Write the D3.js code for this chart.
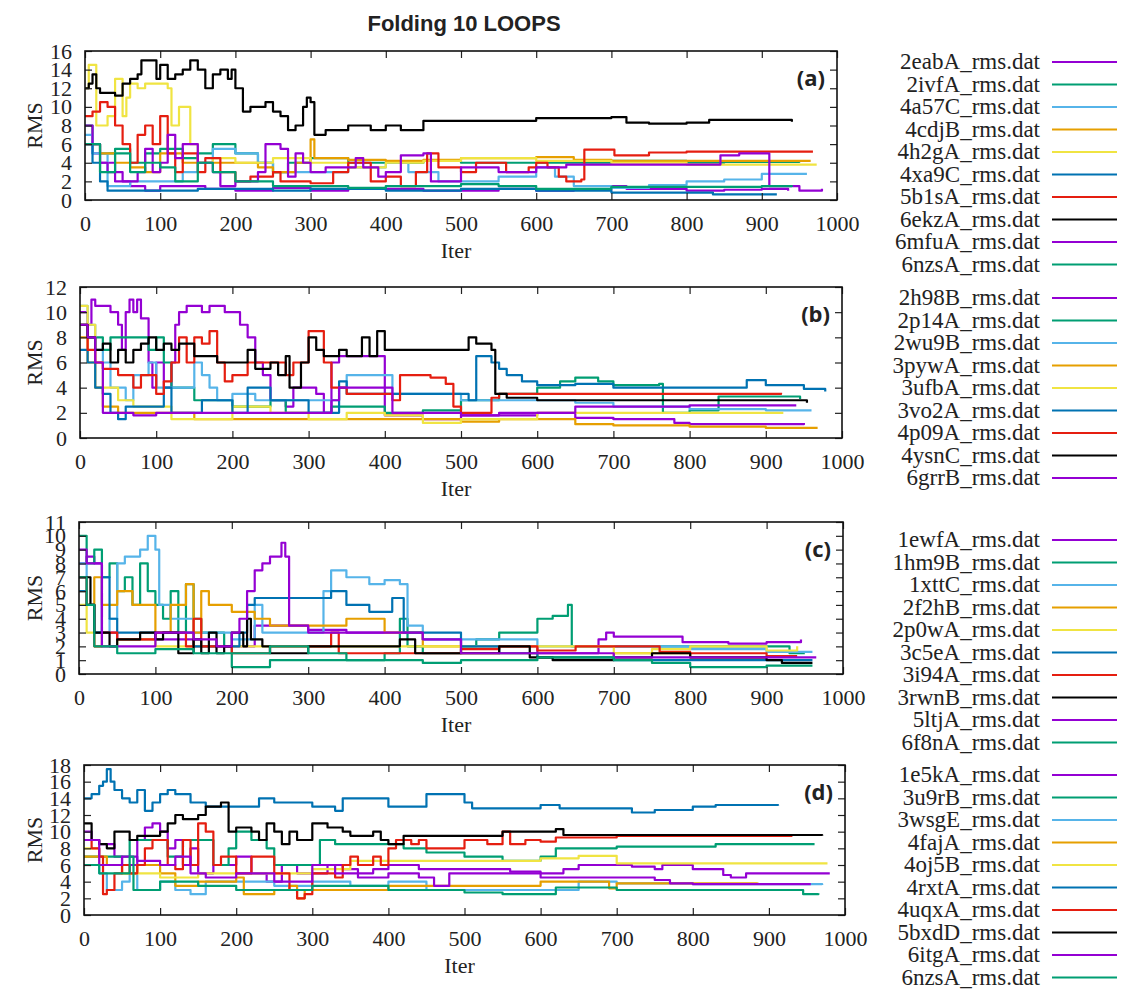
<!DOCTYPE html>
<html>
<head>
<meta charset="utf-8">
<script src="https://cdn.jsdelivr.net/npm/d3@7"></script>
<style>
  body { margin: 0; background: #fff; }
  svg text { fill: #222; }
</style>
</head>
<body>
<svg id="chart" width="1125" height="990"></svg>
<script>
// gnuplot default colour cycle
const colors = ['#9400d3', '#009e73', '#56b4e9', '#e69f00', '#f0e442', '#0072b2', '#e51e10', '#000000', '#9400d3', '#009e73'];

// ---- panel (a)
const namesA = ['2eabA', '2ivfA', '4a57C', '4cdjB', '4h2gA', '4xa9C', '5b1sA', '6ekzA', '6mfuA', '6nzsA'];
const rmsA = [
  [[0,6],[10,5],[20,4],[40,2],[60,1.5],[80,1],[100,1.5],[120,1.5],[160,1.2],[200,1],[250,1.3],[300,1],[350,1.2],[400,1.2],[450,1],[500,1],[550,1.2],[600,1],[650,1.1],[700,1.5],[720,1.2],[800,1],[850,1.1],[900,1.2],[935,1]],
  [[0,8],[10,6],[20,5],[40,5.5],[60,4],[80,5],[100,5.5],[130,4.5],[150,5],[170,6],[200,5],[230,4],[250,3],[270,4],[300,4.5],[350,4],[400,4],[450,4.2],[500,4],[600,4],[700,4.2],[800,4],[850,4.1],[950,4.2]],
  [[0,7],[10,5],[30,1.5],[60,2],[100,2],[130,3],[150,4],[170,5.5],[200,5],[230,4],[250,3],[300,3],[350,3.5],[400,4],[430,3],[470,2],[500,2],[550,2.5],[600,3.5],[625,2.5],[650,1.5],[700,1.3],[750,1.6],[800,2],[850,2.2],[900,2.8],[960,2.8]],
  [[0,6],[20,5],[40,4],[60,3.5],[80,3],[100,5],[130,4],[150,4],[200,4],[230,3.5],[250,3],[280,4],[300,6.5],[305,4.5],[350,4.3],[400,4.2],[450,4.3],[500,4.5],[550,4.5],[600,4.6],[650,4.3],[700,4.2],[800,4.2],[900,4.2],[965,4.2]],
  [[0,12],[5,14.5],[10,14.5],[15,8],[30,9],[40,13],[50,9],[55,11],[60,12.5],[70,12],[80,12.5],[110,12],[115,8],[125,10],[140,6],[150,4],[170,4.5],[200,4],[250,4.5],[300,4],[350,3.5],[400,4],[450,4.2],[500,4.5],[600,4.2],[700,4],[800,3.8],[900,3.8],[973,3.8]],
  [[0,6],[10,4],[20,2],[30,1],[60,1],[100,1],[150,1.2],[200,1.2],[250,1],[300,1.2],[400,1],[500,1.2],[600,1],[700,0.8],[800,0.8],[835,0.6],[920,0.6]],
  [[0,9],[10,9.5],[20,10.5],[30,10],[40,8],[50,6],[60,4],[70,7],[80,8],[90,6],[100,9],[110,5],[120,3],[130,5],[150,3],[160,4.5],[180,3],[200,2],[220,2.5],[250,3],[260,2],[300,1.8],[330,3],[350,4],[380,2],[400,2.5],[420,1.5],[440,3],[455,5],[470,3.5],[500,3],[520,4],[560,3],[590,3.5],[600,4],[615,3.5],[630,2.5],[640,2],[660,2.2],[664,5.4],[700,5.4],[704,4.8],[750,5.1],[800,5.2],[968,5.2]],
  [[0,12],[5,12.5],[10,13.5],[15,12],[20,11.5],[40,11.2],[50,12.5],[60,13],[70,13.5],[75,15],[90,15],[95,13],[100,14.5],[110,13],[120,13.5],[130,14],[140,15],[150,14],[160,12],[170,13.5],[180,14],[190,13],[195,14],[200,12],[210,9.5],[220,10],[240,10.5],[250,9.5],[260,9],[270,7.5],[280,8],[290,10],[295,11],[300,10.5],[305,7],[320,7.5],[340,7.5],[350,8],[380,7.5],[400,8],[420,7.5],[450,8.5],[500,8.5],[550,8.5],[600,8.8],[650,8.8],[700,8.9],[720,8.3],[750,8.2],[800,8.3],[830,8.6],[900,8.6],[940,8.4]],
  [[0,8],[10,6],[20,4],[30,3],[50,2],[70,3],[80,5.5],[90,3],[100,4],[110,7],[120,4.5],[130,6],[150,4],[170,3],[180,1.5],[200,2],[230,3],[240,6],[260,5.5],[270,2.5],[280,5],[290,4],[300,3],[320,3.5],[360,4.5],[370,3.5],[390,2.5],[400,3],[420,4.8],[450,5],[460,2],[480,2],[500,3.5],[550,3],[600,3.5],[640,3.8],[700,3.8],[780,3.8],[840,3.8],[845,4.8],[870,5],[905,5],[910,1.5],[930,1.5],[950,1],[980,1.2]],
  [[0,6],[20,3],[40,5],[60,3],[80,4],[100,3.5],[120,2],[150,4],[170,3],[200,2],[250,1.5],[300,1.5],[350,1.3],[400,1.5],[500,1.7],[550,1.5],[600,1.2],[700,1.4],[800,1.4],[900,1.5],[940,1.4]]
];

// ---- panel (b)
const namesB = ['2h98B', '2p14A', '2wu9B', '3pywA', '3ufbA', '3vo2A', '4p09A', '4ysnC', '6grrB'];
const rmsB = [
  [[0,10],[10,9],[15,11],[20,10.5],[30,10.5],[40,10],[50,9],[55,7],[60,10],[65,11],[70,10],[75,11],[80,9.5],[90,6],[95,4],[100,6],[110,4],[120,6],[125,9],[130,10],[140,10.5],[150,10.5],[160,10],[170,10.5],[190,10],[200,10],[210,9],[220,8],[230,6],[240,5],[250,3],[270,2.5],[280,4],[300,4],[310,3.5],[320,2],[330,6],[340,6.5],[390,6.5],[400,1.8],[450,1.5],[500,1.8],[550,1.8],[600,2],[650,1.6],[700,1.5],[760,1.5],[780,1.2],[800,1.1],[900,1.1],[950,1.2]],
  [[0,9],[10,8],[20,8],[30,7],[40,8],[60,8],[80,8],[90,7],[100,8],[110,6],[120,4],[150,3],[200,2.5],[250,3],[270,2],[300,2],[330,2.5],[400,2],[450,2.2],[500,3],[550,3.5],[600,4],[620,4],[630,4.5],[640,4.5],[650,4.8],[680,4.5],[700,4.2],[760,4.3],[765,2],[800,2.2],[835,2.2],[838,3.3],[900,3.3],[945,3.1]],
  [[0,10.5],[10,9],[20,7],[30,6],[40,4],[60,3],[70,5],[90,6],[100,4],[120,4],[150,6],[160,5],[170,4],[180,3],[200,3.5],[230,3],[250,3],[300,3],[340,4],[350,5],[400,5],[410,3.5],[450,3.5],[500,3],[550,3],[600,3],[650,2.8],[700,2.5],[800,2.3],[900,2.2],[960,2.2]],
  [[0,8],[10,6],[20,4],[30,2.5],[50,2],[100,2],[150,1.5],[200,1.5],[300,1.5],[400,1.5],[450,1.5],[500,1.3],[550,1.5],[600,1.5],[650,1.1],[700,1],[800,0.9],[900,0.8],[968,0.8]],
  [[0,10.5],[10,9],[20,6],[30,4],[50,3],[70,2.5],[100,2.5],[120,1.5],[150,1.5],[200,2.5],[250,2],[300,1.5],[350,2],[400,1.8],[450,1.2],[500,1.5],[600,2],[700,2],[800,2],[923,2]],
  [[0,7],[10,6],[20,4],[30,3.5],[40,2],[50,1.5],[60,2.5],[100,2.5],[110,4],[120,2],[150,2],[160,3],[200,2],[220,4],[250,3],[300,2],[330,2],[340,4.5],[350,3.5],[400,3.5],[450,3.5],[500,3.5],[510,3],[520,6.5],[540,6],[550,5.5],[560,5],[580,4.5],[600,4.2],[650,4.3],[700,4],[800,4],[870,4],[875,4.6],[900,4.2],[950,3.9],[978,3.7]],
  [[0,9],[10,7],[20,6],[30,5.5],[50,5],[70,4],[80,5],[100,3.5],[110,4.5],[120,6],[130,8],[140,6],[150,8],[160,7.5],[170,8.5],[180,6],[190,4.5],[200,5],[220,6],[250,6],[270,5],[280,6],[300,8.5],[310,8.5],[320,6],[330,4],[350,3.5],[400,3.5],[410,3],[420,5],[460,4.8],[480,4.3],[490,2.5],[500,2],[540,3.2],[550,3.5],[600,3.5],[700,3.5],[800,3.5],[920,3.6]],
  [[0,9],[10,8],[20,7],[30,7.5],[40,6],[50,7],[60,6],[70,7],[80,7.5],[90,8],[100,7],[110,7.5],[120,7],[130,7.5],[150,6.5],[170,6.5],[180,6],[200,6],[220,7],[230,5.5],[250,6],[260,5],[270,6.5],[275,4],[290,6],[300,8],[310,7],[320,6.5],[340,7],[350,6.5],[370,8],[380,6.5],[390,8.5],[400,7],[450,7],[500,7],[510,8],[520,7.5],[540,7],[545,3.5],[560,3.2],[600,3],[700,3],[800,3],[900,3],[954,2.8]],
  [[0,9],[10,8],[20,6],[30,2],[50,2],[70,1.8],[100,2],[150,2],[200,2],[250,2],[300,2],[330,3],[340,4],[400,4],[410,2],[450,2],[500,1.8],[550,2],[600,2],[650,2.5],[700,2.5],[800,2.6],[940,2.6]]
];

// ---- panel (c)
const namesC = ['1ewfA', '1hm9B', '1xttC', '2f2hB', '2p0wA', '3c5eA', '3i94A', '3rwnB', '5ltjA', '6f8nA'];
const rmsC = [
  [[0,8],[10,8.5],[20,8],[30,3],[50,2.5],[100,2.5],[150,2],[200,2],[220,2],[230,3.5],[300,3.2],[350,3],[400,3],[450,2.5],[500,2],[550,2],[600,1.5],[670,1.5],[680,2.5],[690,3],[700,2.7],[780,2.7],[790,2.3],[850,2.2],[900,2.3],[945,2.5]],
  [[0,10],[10,8],[20,9],[30,7],[40,8],[50,6],[60,7],[70,5],[80,8],[90,6],[100,5],[110,4],[120,6],[130,3],[140,6.5],[150,4],[160,3],[180,3],[190,2],[200,0.5],[220,0.5],[250,1],[300,1],[400,1.5],[420,4],[430,2],[450,1.5],[480,1.5],[500,2],[520,2.5],[550,3],[600,4],[620,4.2],[640,5],[645,2],[700,2],[800,2],[920,2],[930,1.5],[950,1.5]],
  [[0,8],[10,5],[20,3],[40,4],[50,8],[60,8.5],[80,9],[90,10],[100,9],[105,5],[120,4],[150,3],[200,2.5],[220,2.5],[230,5],[240,3],[300,3],[320,6],[330,7.5],[350,7],[380,6.5],[400,6.8],[420,6.5],[430,3.5],[450,2.5],[500,2.5],[600,2],[700,2],[800,1.8],[900,1.6],[960,1.6]],
  [[0,6],[10,5],[20,7],[30,5],[50,6],[70,5],[100,3],[120,5],[140,6.5],[150,3],[160,6],[170,5],[200,4.5],[230,4],[250,3.5],[300,3.5],[350,4],[400,3],[450,2],[500,1.5],[600,1.2],[700,1.5],[800,1.2],[900,1.2]],
  [[0,5],[10,3],[20,2],[50,2.5],[100,2],[200,2],[300,2],[400,2],[500,2],[600,2],[700,1.5],[750,1.8],[800,2],[900,1.7],[940,2]],
  [[0,6],[10,5],[20,3],[30,7],[40,4],[50,3],[100,3],[150,2],[200,2],[210,3],[220,5],[230,5.5],[250,5.5],[300,5.5],[330,6],[350,5],[380,4.5],[400,4.5],[410,5.5],[420,5.5],[425,3],[450,3],[480,3],[500,2],[550,1.5],[600,1.2],[700,1],[800,1],[900,1],[960,1]],
  [[0,7],[10,5],[20,2],[30,3],[50,2.5],[100,3],[140,2],[150,4],[160,2],[200,1.5],[250,2],[300,2],[330,3],[340,1.5],[400,1.5],[450,1.5],[500,1.8],[550,2],[600,1.7],[650,2],[700,2],[750,2],[760,1.6],[800,1.5],[900,1.3],[940,1.3]],
  [[0,7],[10,7],[15,5],[20,3],[30,3],[40,2],[50,2.5],[70,2.5],[80,3],[100,2.5],[110,3],[130,1.5],[140,1.5],[150,2.5],[160,1.5],[170,3],[180,1.5],[190,2],[200,3],[215,2],[220,4],[225,2.5],[240,2],[250,1.5],[300,2],[350,2],[400,2],[420,2.5],[440,1.5],[500,1.5],[550,2],[580,2],[590,1.2],[620,1],[700,1.2],[750,1.5],[800,1.2],[900,1],[920,0.8],[960,0.8]],
  [[0,9],[10,8],[20,8],[30,2],[50,2],[100,3],[150,2.5],[180,2],[200,3],[210,4],[220,6],[230,7.5],[240,8],[250,8.5],[260,8.5],[265,9.5],[270,8.5],[275,3.5],[300,3],[400,3],[450,2.5],[500,1.5],[600,1.5],[700,1.2],[800,1.2],[900,1.2],[965,1.2]],
  [[0,7],[10,5],[20,2],[50,1.5],[100,1.8],[150,1.5],[200,1.5],[250,2],[300,1.5],[350,1],[400,1],[450,0.8],[500,1],[600,1.2],[700,1],[750,0.8],[800,0.5],[900,0.6],[960,0.6]]
];

// ---- panel (d)
const namesD = ['1e5kA', '3u9rB', '3wsgE', '4fajA', '4oj5B', '4rxtA', '4uqxA', '5bxdD', '6itgA', '6nzsA'];
const rmsD = [
  [[0,10],[10,9],[20,8.5],[40,7],[50,6],[70,9],[80,10.5],[90,11],[100,10],[110,8],[120,9],[130,6],[140,8],[150,5],[170,6],[200,7],[220,5],[240,4],[260,6],[280,5],[300,5],[320,6],[340,5.5],[360,5],[380,5.5],[400,6],[420,6],[440,5.5],[500,5.5],[540,5.5],[560,5.2],[600,5],[630,5.5],[650,6],[700,6],[720,5.8],[750,5.5],[760,6],[780,6],[800,5.5],[840,4.8],[850,4.5],[870,5],[900,5],[980,5]],
  [[0,7],[30,7],[60,9],[100,9],[110,7],[130,9],[150,9],[170,6],[190,8],[200,10],[220,9],[240,8],[250,6],[300,6],[310,9],[330,8.5],[400,8.5],[420,8],[450,7.5],[500,7],[550,6.5],[600,7],[620,8],[650,8],[700,8.2],[830,8.5],[960,8.5]],
  [[0,6],[20,5],[30,3],[50,4],[60,5],[70,3],[100,4],[120,3],[140,2.5],[160,4],[200,4],[250,3.5],[300,4],[350,3.5],[400,4],[450,3],[500,3],[600,3],[620,3],[650,4],[700,3.8],[800,3.7],[900,3.7],[970,3.6]],
  [[0,7],[30,6],[50,5],[70,6],[100,5],[120,3.5],[150,4],[200,4.5],[210,2.5],[220,2.5],[250,3],[270,3.5],[280,2],[290,3],[300,3],[400,3.5],[500,3.5],[600,4],[650,4],[690,3.2],[700,3.8],[760,3.8],[800,3.8],[885,3.9]],
  [[0,8],[20,6],[50,5],[80,5],[100,4.5],[150,5],[200,5],[250,5],[300,5.5],[350,6.5],[400,6.5],[500,6.5],[600,6.8],[650,7.1],[690,7.1],[700,6.2],[750,6.2],[977,6.2]],
  [[0,14],[10,14.5],[20,15.5],[25,16],[30,17.5],[35,16],[40,15],[50,14],[60,13.5],[70,15],[80,12.5],[90,13.5],[100,14.5],[110,15],[120,14.5],[140,13.5],[160,13],[200,13],[230,14],[250,13.5],[300,13],[330,12.5],[340,14],[400,13],[450,14.5],[480,14.5],[500,13.5],[510,12.8],[600,13.2],[625,12.8],[700,12.8],[720,12.3],[750,12.6],[800,13],[830,13.2],[912,13.1]],
  [[0,9],[10,8],[20,7],[25,2.5],[30,3],[40,5],[50,6],[60,5],[70,6],[80,8],[90,9],[100,9],[110,6],[120,5.5],[130,9],[140,6],[150,11],[160,10],[170,6],[180,7],[200,5],[220,7],[250,5],[270,3],[280,2],[290,2.5],[300,5],[320,5],[330,4.5],[340,6],[350,7],[360,6],[380,7],[390,6],[400,8],[410,9],[430,8.5],[440,9],[450,8],[500,9],[530,8.5],[550,10],[560,8.5],[580,9],[600,8.8],[620,9.3],[700,9.5],[800,9.5],[930,9.6]],
  [[0,11],[10,9],[20,8.5],[30,8],[40,10],[50,10],[60,9],[70,9.5],[80,9.5],[100,10],[110,11],[120,12],[130,11.5],[140,11.5],[150,12],[160,13],[170,13],[180,13.5],[190,10],[200,10.5],[220,10],[230,9],[240,11],[250,10],[260,8.5],[270,10],[280,9],[300,11],[320,10.5],[340,10],[350,9.5],[380,10],[390,9],[400,8.5],[420,9.5],[450,9.5],[500,9.5],[550,10],[600,10],[620,10.3],[630,9.6],[700,9.6],[860,9.6],[970,9.5]],
  [[0,9],[20,6],[50,7],[70,6.5],[100,6],[120,7],[140,5],[160,4.5],[200,5],[250,4],[300,6],[330,5],[360,4.5],[400,5],[420,5],[440,4.5],[460,3.5],[480,5],[500,5],[550,5],[600,4.5],[700,4.5],[750,4.2],[770,3.8],[800,3.7],[900,3.7],[955,3.7]],
  [[0,6],[20,5],[60,7],[65,3],[100,4],[150,3.5],[200,3],[250,3],[300,3.5],[350,3.5],[400,3],[450,3],[500,2.7],[550,2.5],[600,2.5],[620,3.3],[700,3],[800,3],[940,3],[945,2.5],[965,2.6]]
];

const titleText = 'Folding 10 LOOPS';

// layout of each panel (pixel frame, y axis, legend)
const panels = [
  { tag: '(a)', names: namesA, data: rmsA, ymax: 16, ystep: 2, l: 85, r: 837, t: 51, b: 200, legendY: 62 },
  { tag: '(b)', names: namesB, data: rmsB, ymax: 12, ystep: 2, l: 80, r: 842, t: 287, b: 438, legendY: 298 },
  { tag: '(c)', names: namesC, data: rmsC, ymax: 11, ystep: 1, l: 79, r: 843, t: 522, b: 674, legendY: 540 },
  { tag: '(d)', names: namesD, data: rmsD, ymax: 18, ystep: 2, l: 84, r: 845, t: 765, b: 915, legendY: 775 }
];

const svg = d3.select('#chart');
const serif = "'Liberation Serif', 'Times New Roman', serif";

svg.append('text')
  .attr('x', 464).attr('y', 31)
  .attr('text-anchor', 'middle')
  .style('font-family', "'Liberation Sans', Arial, sans-serif")
  .style('font-weight', 'bold')
  .style('font-size', '22px')
  .text(titleText);

panels.forEach(p => {
  const g = svg.append('g');
  const x = d3.scaleLinear().domain([0, 1000]).range([p.l, p.r]);
  const y = d3.scaleLinear().domain([0, p.ymax]).range([p.b, p.t]);
  const xt = d3.range(0, 1001, 100);
  const yt = d3.range(0, p.ymax + 0.001, p.ystep);

  // lines
  const line = d3.line().x(d => x(d[0])).y(d => y(d[1])).curve(d3.curveStepAfter);
  p.data.forEach((s, i) => {
    g.append('path')
      .datum(s)
      .attr('d', line)
      .attr('fill', 'none')
      .attr('stroke', colors[i])
      .attr('stroke-width', 2.2)
      .attr('stroke-linejoin', 'round');
  });

  // axes: ticks on all four sides, pointing inward
  const tk = 7;
  g.append('g').attr('transform', `translate(0,${p.b})`)
    .call(d3.axisBottom(x).tickValues(xt).tickFormat(d3.format('d')).tickSizeInner(-tk).tickSizeOuter(0).tickPadding(tk + 8))
    .call(a => a.select('.domain').remove());
  g.append('g').attr('transform', `translate(0,${p.t})`)
    .call(d3.axisTop(x).tickValues(xt).tickSizeInner(-tk).tickSizeOuter(0).tickFormat(''))
    .call(a => a.select('.domain').remove());
  g.append('g').attr('transform', `translate(${p.l},0)`)
    .call(d3.axisLeft(y).tickValues(yt).tickFormat(d3.format('d')).tickSizeInner(-tk).tickSizeOuter(0).tickPadding(tk + 6))
    .call(a => a.select('.domain').remove());
  g.append('g').attr('transform', `translate(${p.r},0)`)
    .call(d3.axisRight(y).tickValues(yt).tickSizeInner(-tk).tickSizeOuter(0).tickFormat(''))
    .call(a => a.select('.domain').remove());
  g.selectAll('.tick line').attr('stroke', '#222').attr('stroke-width', 1.2);
  g.selectAll('.tick text')
    .style('font-family', serif).style('font-size', '22px').attr('fill', '#222');

  g.append('rect')
    .attr('x', p.l).attr('y', p.t)
    .attr('width', p.r - p.l).attr('height', p.b - p.t)
    .attr('fill', 'none').attr('stroke', '#111').attr('stroke-width', 1.6);

  g.append('text')
    .attr('x', (p.l + p.r) / 2 - 5).attr('y', p.b + 58)
    .attr('text-anchor', 'middle')
    .style('font-family', serif).style('font-size', '22px')
    .text('Iter');
  g.append('text')
    .attr('transform', `translate(42,${(p.t + p.b) / 2}) rotate(-90)`)
    .attr('text-anchor', 'middle')
    .style('font-family', serif).style('font-size', '22px')
    .text('RMS');

  g.append('text')
    .attr('x', p.r - 12).attr('y', p.t + 35)
    .attr('text-anchor', 'end')
    .style('font-family', "'Open Sans', 'Liberation Sans', sans-serif")
    .style('font-weight', 'bold').style('font-size', '22px')
    .text(p.tag);

  // legend
  p.names.forEach((n, i) => {
    const ly = p.legendY + i * 22.5;
    g.append('text')
      .attr('x', 1040).attr('y', ly + 7)
      .attr('text-anchor', 'end')
      .style('font-family', serif).style('font-size', '23px')
      .text(n + '_rms.dat');
    g.append('line')
      .attr('x1', 1052).attr('x2', 1117)
      .attr('y1', ly).attr('y2', ly)
      .attr('stroke', colors[i]).attr('stroke-width', 2);
  });
});
</script>
</body>
</html>
